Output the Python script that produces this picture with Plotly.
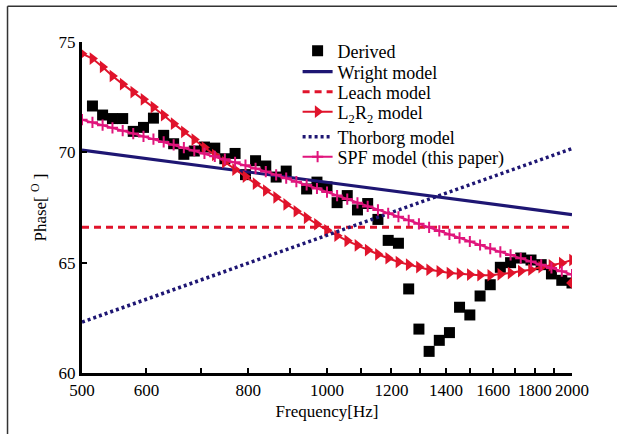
import plotly.graph_objects as go

# Model frequency grid (Hz)
model_freq = [500, 515, 530, 545, 561, 578, 595, 612, 630, 648, 667, 687, 707, 728, 749,
              771, 794, 817, 841, 866, 891, 917, 944, 972, 1000, 1029, 1059, 1090, 1122,
              1155, 1189, 1224, 1260, 1297, 1335, 1374, 1414, 1455, 1498, 1542, 1587,
              1633, 1681, 1730, 1781, 1833, 1887, 1943, 2000]

# Derived (measured) phase
derived_freq = [515, 530, 545, 561, 578, 595, 612, 630, 648, 667, 687, 707, 728, 749,
                771, 794, 817, 841, 866, 891, 944, 972, 1000, 1029, 1059, 1090, 1122,
                1155, 1189, 1224, 1260, 1297, 1335, 1374, 1414, 1455, 1498, 1542, 1587,
                1633, 1681, 1730, 1781, 1833, 1887, 1943, 2000]
derived_phase = [72.1, 71.69, 71.53, 71.53, 70.95, 71.13, 71.55, 70.77, 70.39, 69.91,
                 70.06, 70.24, 70.19, 69.71, 69.95, 68.99, 69.62, 69.38, 68.88, 69.15,
                 68.34, 68.65, 68.43, 67.72, 68.04, 67.39, 67.68, 66.96, 66.01, 65.88,
                 63.81, 61.99, 60.98, 61.48, 61.83, 62.98, 62.63, 63.49, 64.0, 64.79,
                 65.0, 65.21, 65.12, 64.91, 64.49, 64.2, 64.08]

# Straight-line models (end points and middle)
wright_freq = [500, 1000, 2000]
wright_phase = [70.1, 68.64, 67.18]
leach_freq = [500, 2000]
leach_phase = [66.6, 66.6]
thorborg_freq = [500, 1000, 2000]
thorborg_phase = [62.31, 66.24, 70.17]

l2r2_phase = [74.47, 74.25, 73.87, 73.46, 73.09, 72.73, 72.40, 72.05, 71.68, 71.30,
              70.93, 70.58, 70.22, 69.88, 69.55, 69.22, 68.90, 68.58, 68.27, 67.96,
              67.64, 67.33, 67.03, 66.74, 66.47, 66.22, 65.99, 65.78, 65.57, 65.38,
              65.20, 65.03, 64.91, 64.80, 64.68, 64.61, 64.53, 64.50, 64.46, 64.43,
              64.43, 64.47, 64.53, 64.62, 64.68, 64.80, 64.88, 64.98, 65.12]

spf_phase = [71.48, 71.36, 71.23, 71.11, 70.98, 70.85, 70.72, 70.60, 70.47, 70.34,
             70.21, 70.08, 69.95, 69.82, 69.69, 69.55, 69.42, 69.27, 69.13, 68.98,
             68.83, 68.67, 68.52, 68.36, 68.20, 68.04, 67.88, 67.71, 67.55, 67.39,
             67.24, 67.08, 66.92, 66.76, 66.60, 66.44, 66.28, 66.12, 65.96, 65.80,
             65.64, 65.49, 65.35, 65.20, 65.05, 64.90, 64.76, 64.61, 64.46]

x_tickvals = [500, 600, 800, 1000, 1200, 1400, 1600, 1800, 2000]
x_ticktext = ["500", "600", "800", "1000", "1200", "1400", "1600", "1800", "2000"]
x_minorvals = [700, 900, 1100, 1300, 1500, 1700, 1900]
y_tickvals = [60, 65, 70, 75]

NAVY = "#1e1673"
RED = "#e0132b"
MAGENTA = "#e0157c"
FONT = "Liberation Serif"

# legend rows (paper y of each legend entry centre)
legend_rows = [0.9728, 0.9094, 0.849, 0.7885, 0.713, 0.6526]
LEG_X = 0.44

fig = go.Figure()
fig.add_trace(go.Scatter(x=derived_freq, y=derived_phase, mode="markers", name="Derived",
                         legend="legend",
                         marker=dict(symbol="square", size=11, color="black")))
fig.add_trace(go.Scatter(x=wright_freq, y=wright_phase, mode="lines", name="Wright model",
                         legend="legend2",
                         line=dict(color=NAVY, width=3.2)))
fig.add_trace(go.Scatter(x=leach_freq, y=leach_phase, mode="lines", name="Leach model",
                         legend="legend3",
                         line=dict(color=RED, width=3, dash="7px,5px")))
fig.add_trace(go.Scatter(x=model_freq, y=l2r2_phase, mode="lines+markers",
                         name="L<sub>2</sub>R<sub>2</sub> model", legend="legend4",
                         line=dict(color=RED, width=2),
                         marker=dict(symbol="triangle-right", size=11, color=RED)))
fig.add_trace(go.Scatter(x=thorborg_freq, y=thorborg_phase, mode="lines", name="Thorborg model",
                         legend="legend5",
                         line=dict(color=NAVY, width=3.5, dash="3px,3px")))
fig.add_trace(go.Scatter(x=model_freq, y=spf_phase, mode="lines+markers",
                         name="SPF model (this paper)", legend="legend6",
                         line=dict(color=MAGENTA, width=2),
                         marker=dict(symbol="cross-thin", size=8, color=MAGENTA,
                                     line=dict(color=MAGENTA, width=2))))
fig.add_trace(go.Scatter(x=derived_freq[-1:], y=derived_phase[-1:], mode="markers",
                         showlegend=False,
                         marker=dict(symbol="diamond", size=9, color=RED)))

def leg(yv):
    return dict(x=LEG_X, y=yv, xanchor="left", yanchor="middle",
                bgcolor="rgba(0,0,0,0)", font=dict(family=FONT, size=18),
                borderwidth=0)

fig.update_layout(
    width=617, height=434,
    margin=dict(l=82, r=45, t=42, b=61),
    paper_bgcolor="white", plot_bgcolor="white",
    font=dict(family=FONT, size=17, color="black"),
    showlegend=True,
    legend=leg(legend_rows[0]),
    legend2=leg(legend_rows[1]),
    legend3=leg(legend_rows[2]),
    legend4=leg(legend_rows[3]),
    legend5=leg(legend_rows[4]),
    legend6=leg(legend_rows[5]),
    xaxis=dict(type="log", range=[2.69897, 3.30103], tickmode="array",
               tickvals=x_tickvals, ticktext=x_ticktext,
               ticks="inside", ticklen=5, tickwidth=2, tickcolor="black",
               minor=dict(tickmode="array", tickvals=x_minorvals, ticks="inside",
                          ticklen=5, tickwidth=2, tickcolor="black", showgrid=False),
               showline=True, linecolor="black", linewidth=3, mirror=False,
               showgrid=False, zeroline=False,
               title=dict(text="Frequency[Hz]", standoff=6, font=dict(size=17)),
               tickfont=dict(size=17)),
    yaxis=dict(range=[60, 75], tickmode="array", tickvals=y_tickvals,
               ticks="inside", ticklen=5, tickwidth=2, tickcolor="black",
               showline=True, linecolor="black", linewidth=3, mirror=False,
               showgrid=False, zeroline=False,
               title=dict(text="Phase[ <sup>O</sup> ]", standoff=8, font=dict(size=17)),
               tickfont=dict(size=17)),
    shapes=[
        dict(type="line", xref="paper", yref="paper", x0=-0.152, x1=-0.152, y0=1.1079, y1=-0.2,
             line=dict(color="#333333", width=1.5)),
        dict(type="line", xref="paper", yref="paper", x0=-0.152, x1=1.1, y0=1.1079, y1=1.1079,
             line=dict(color="#333333", width=1.5)),
    ],
)

fig.write_html("out.html")
